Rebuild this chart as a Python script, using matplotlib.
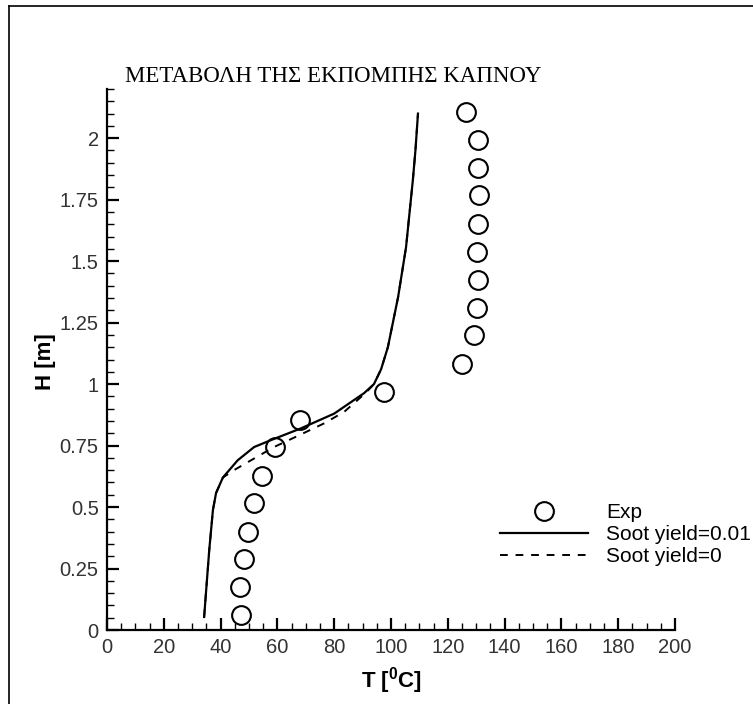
import matplotlib
matplotlib.use('Agg')
import matplotlib.pyplot as plt
from matplotlib.lines import Line2D

plt.rcParams['font.family'] = ['Liberation Sans', 'DejaVu Sans']
plt.rcParams['mathtext.fontset'] = 'custom'
plt.rcParams['mathtext.rm'] = 'Liberation Sans'
plt.rcParams['mathtext.bf'] = 'Liberation Sans:bold'

# experimental points
exp_T = [47.2, 46.8, 48.2, 49.6, 51.8, 54.6, 59.2, 68.0, 97.5,
         125.0, 129.2, 130.3, 130.6, 130.3, 130.6, 131.0, 130.6, 130.6, 126.4]
exp_H = [0.061, 0.175, 0.289, 0.398, 0.516, 0.626, 0.744, 0.854, 0.967,
         1.081, 1.199, 1.309, 1.423, 1.537, 1.65, 1.768, 1.878, 1.992, 2.106]

# soot yield = 0.01
s1_T = [34.2, 36.0, 37.3, 38.4, 40.8, 46.0, 51.8, 57.7, 68.3, 80.0, 90.5,
        94.0, 96.5, 98.9, 102.5, 105.3, 107.7, 108.6, 109.5]
s1_H = [0.053, 0.325, 0.488, 0.557, 0.62, 0.69, 0.744, 0.772, 0.82, 0.88, 0.963,
        1.0, 1.06, 1.15, 1.354, 1.557, 1.83, 1.95, 2.1]

# soot yield = 0
s0_T = [34.2, 36.0, 37.3, 38.4, 40.8, 44.7, 50.7, 58.8, 67.3, 76.4, 83.5,
        89.4, 92.0, 94.0, 96.5, 98.9, 102.5, 105.3, 107.7, 108.6, 109.5]
s0_H = [0.053, 0.325, 0.488, 0.557, 0.62, 0.65, 0.69, 0.744, 0.79, 0.84, 0.887,
        0.947, 0.975, 1.0, 1.06, 1.15, 1.354, 1.557, 1.83, 1.95, 2.1]

x_ticks = [0, 20, 40, 60, 80, 100, 120, 140, 160, 180, 200]
y_ticks = [0, 0.25, 0.5, 0.75, 1, 1.25, 1.5, 1.75, 2]
y_ticklabels = ['0', '0.25', '0.5', '0.75', '1', '1.25', '1.5', '1.75', '2']

W, H = 753, 704
fig = plt.figure(figsize=(W / 100, H / 100), dpi=100)
ax = fig.add_axes([107 / W, 1 - 630 / H, (675 - 107) / W, (630 - 89) / H])

ax.plot(exp_T, exp_H, 'o', ms=13.5, mfc='none', mec='k', mew=1.5, label='Exp')
ax.plot(s1_T, s1_H, '-', c='k', lw=1.6, label='Soot yield=0.01')
ax.plot(s0_T, s0_H, '--', c='k', lw=1.4, dashes=(4, 4), label='Soot yield=0')

ax.set_xlim(0, 200)
ax.set_ylim(0, 2.2)
ax.set_xticks(x_ticks)
ax.set_xticks(range(0, 201, 5), minor=True)
ax.set_yticks(y_ticks)
ax.set_yticklabels(y_ticklabels)
ax.set_yticks([i * 0.05 for i in range(45)], minor=True)
ax.tick_params(which='major', direction='in', length=8.5, width=1.6,
               labelsize=14.5, labelcolor='#333333', pad=6)
ax.tick_params(which='minor', direction='in', length=5, width=1.0)
ax.spines['top'].set_visible(False)
ax.spines['right'].set_visible(False)
ax.spines['left'].set_linewidth(1.6)
ax.spines['bottom'].set_linewidth(1.6)

fig.text(391 / W, 1 - 681 / H, r'T [$\mathbf{^0}$C]', ha='center', va='center',
         fontsize=16, fontweight='bold')
fig.text(46 / W, 1 - 362 / H, 'H [m]', ha='center', va='center',
         rotation=90, fontsize=16, fontweight='bold')
fig.text(125 / W, 1 - 82 / H, 'ΜΕΤΑΒΟΛΗ ΤΗΣ ΕΚΠΟΜΠΗΣ ΚΑΠΝΟΥ',
         ha='left', va='baseline', fontsize=16.5, family='Liberation Serif')

ax.legend(loc='upper left', bbox_to_anchor=(500 / W, 1 - 503 / H),
          bbox_transform=fig.transFigure, frameon=False, fontsize=15,
          handlelength=4.2, handletextpad=0.9, labelspacing=0.15,
          borderpad=0, borderaxespad=0, numpoints=1)

# outer frame
fig.add_artist(Line2D([9 / W, 9 / W], [0, 1 - 6 / H], color='k', lw=1.2))
fig.add_artist(Line2D([9 / W, 1], [1 - 6 / H, 1 - 6 / H], color='k', lw=1.2))

fig.savefig('out.png', dpi=100)
